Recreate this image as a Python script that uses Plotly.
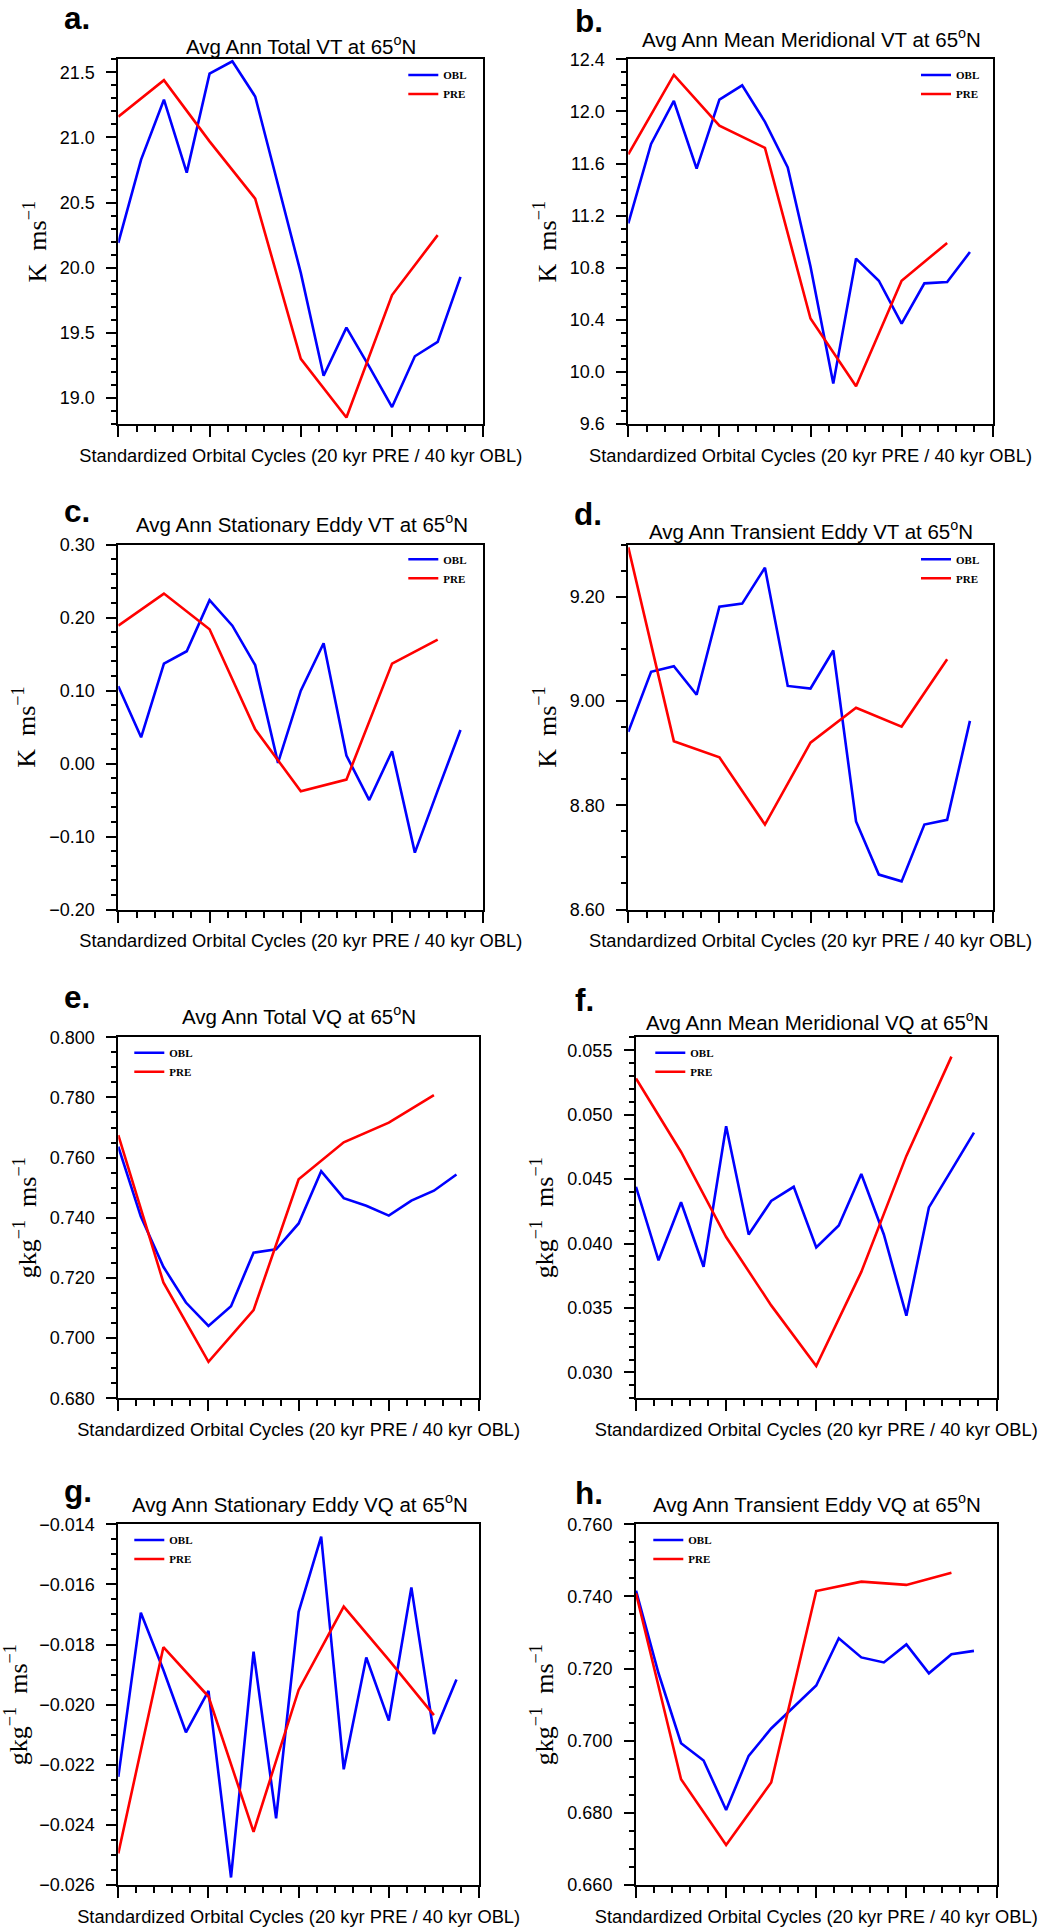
import plotly.graph_objects as go

# ---------------- data ----------------
x_obl = [0.0, 0.25, 0.5, 0.75, 1.0, 1.25, 1.5, 1.75, 2.0, 2.25, 2.5, 2.75, 3.0, 3.25, 3.5, 3.75]
x_pre = [0.0, 0.5, 1.0, 1.5, 2.0, 2.5, 3.0, 3.5]

a_obl = [20.19, 20.83, 21.29, 20.73, 21.49, 21.585, 21.315, 20.64, 19.96, 19.17, 19.54, 19.24, 18.93, 19.32, 19.43, 19.93]
a_pre = [21.16, 21.44, 20.97, 20.53, 19.30, 18.85, 19.79, 20.25]

b_obl = [11.14, 11.75, 12.08, 11.56, 12.09, 12.20, 11.92, 11.57, 10.81, 9.91, 10.87, 10.70, 10.37, 10.68, 10.69, 10.92]
b_pre = [11.67, 12.28, 11.89, 11.72, 10.41, 9.89, 10.70, 10.99]

c_obl = [0.106, 0.036, 0.137, 0.154, 0.224, 0.189, 0.135, 0.001, 0.100, 0.165, 0.011, -0.050, 0.017, -0.122, -0.037, 0.046]
c_pre = [0.189, 0.233, 0.184, 0.047, -0.038, -0.022, 0.137, 0.170]

d_obl = [8.941, 9.056, 9.067, 9.012, 9.181, 9.187, 9.256, 9.029, 9.024, 9.097, 8.769, 8.667, 8.654, 8.763, 8.772, 8.962]
d_pre = [9.295, 8.923, 8.892, 8.763, 8.920, 8.987, 8.951, 9.080]

e_obl = [0.7636, 0.7404, 0.7237, 0.7118, 0.7040, 0.7106, 0.7284, 0.7295, 0.7381, 0.7555, 0.7465, 0.7440, 0.7407, 0.7457, 0.7490, 0.7544]
e_pre = [0.7675, 0.7185, 0.6921, 0.7093, 0.7528, 0.7651, 0.7716, 0.7808]

f_obl = [0.0444, 0.0387, 0.0432, 0.0382, 0.0491, 0.0407, 0.0433, 0.0444, 0.0397, 0.0414, 0.0454, 0.0407, 0.0344, 0.0428, 0.0457, 0.0486]
f_pre = [0.0528, 0.0471, 0.0405, 0.0352, 0.0305, 0.0378, 0.0468, 0.0545]

g_obl = [-0.0224, -0.01694, -0.01885, -0.02092, -0.01954, -0.02575, -0.01824, -0.02378, -0.01691, -0.01441, -0.02215, -0.01843, -0.02053, -0.0161, -0.02098, -0.01916]
g_pre = [-0.02495, -0.01809, -0.01973, -0.02423, -0.01951, -0.01674, -0.01851, -0.02035]

h_obl = [0.7416, 0.7187, 0.6993, 0.6945, 0.6808, 0.6958, 0.7034, 0.7094, 0.7153, 0.7284, 0.7231, 0.7217, 0.7267, 0.7187, 0.7240, 0.7249]
h_pre = [0.7409, 0.6893, 0.6711, 0.6884, 0.7415, 0.7441, 0.7432, 0.7466]

panel_letters = ["a.", "b.", "c.", "d.", "e.", "f.", "g.", "h."]
panel_titles = [
    "Avg Ann Total VT at 65<sup>o</sup>N",
    "Avg Ann Mean Meridional VT at 65<sup>o</sup>N",
    "Avg Ann Stationary Eddy VT at 65<sup>o</sup>N",
    "Avg Ann Transient Eddy VT at 65<sup>o</sup>N",
    "Avg Ann Total VQ at 65<sup>o</sup>N",
    "Avg Ann Mean Meridional VQ at 65<sup>o</sup>N",
    "Avg Ann Stationary Eddy VQ at 65<sup>o</sup>N",
    "Avg Ann Transient Eddy VQ at 65<sup>o</sup>N",
]
unit_vt = "K  ms<sup>\u22121</sup>"
unit_vq = "gkg<sup>\u22121</sup>  ms<sup>\u22121</sup>"
x_title = "Standardized Orbital Cycles (20 kyr PRE / 40 kyr OBL)"
series_names = ["OBL", "PRE"]

obl_series = [a_obl, b_obl, c_obl, d_obl, e_obl, f_obl, g_obl, h_obl]
pre_series = [a_pre, b_pre, c_pre, d_pre, e_pre, f_pre, g_pre, h_pre]
y_ranges = [[18.8, 21.6], [9.6, 12.4], [-0.2, 0.3], [8.6, 9.3],
            [0.68, 0.80], [0.028, 0.056], [-0.026, -0.014], [0.66, 0.76]]
y_dtick = [0.5, 0.4, 0.1, 0.2, 0.02, 0.005, 0.002, 0.02]
y_tick0 = [19.0, 9.6, 0.0, 8.6, 0.68, 0.03, -0.026, 0.66]
y_minor = [0.1, 0.1, 0.02, 0.05, 0.005, 0.001, 0.0005, 0.005]
y_fmt = [".1f", ".1f", ".2f", ".2f", ".3f", ".3f", ".3f", ".3f"]

# ---------------- layout geometry (page pixels) ----------------
W, H = 1042, 1930

boxes = [  # x0, x1, y0(top), y1(bottom)
    (118.3, 483.3, 59.3, 424.0),
    (628.3, 992.7, 59.3, 424.0),
    (118.3, 483.3, 544.7, 909.5),
    (628.3, 992.7, 544.7, 909.5),
    (118.3, 479.0, 1037.3, 1398.2),
    (636.0, 996.5, 1037.3, 1398.2),
    (118.3, 479.0, 1524.3, 1885.0),
    (636.0, 996.5, 1524.3, 1885.0),
]
letter_pos = [(61.7, 29.3), (572.7, 31.7), (61.7, 521.7), (572.0, 525.0),
              (61.7, 1008.3), (572.7, 1010.7), (61.7, 1502.3), (572.7, 1504.0)]
title_pos = [(301, 53.3), (811, 46.7), (301.7, 531.7), (811, 538.3),
             (299, 1024), (817, 1030), (299.5, 1511.7), (817, 1511.7)]
legend_pos = [(443.3, 75), (956, 75), (443.3, 559.3), (956, 559.3),
              (169.3, 1052.7), (690.3, 1052.7), (169.3, 1540), (688.3, 1540)]

SANS = "Liberation Sans, Arial, Helvetica, sans-serif"
SERIF = "Liberation Serif, Times New Roman, serif"
LETTER_FS = 31.5
TITLE_FS = 20.5

def fx(p):
    return p / W

def fy(p):
    return 1 - p / H

fig = go.Figure()
layout = dict(
    template="none",
    width=W, height=H, autosize=False,
    margin=dict(l=0, r=0, t=0, b=0, pad=0, autoexpand=False),
    paper_bgcolor="white", plot_bgcolor="white",
    font=dict(family=SANS, color="black"),
    annotations=[],
)

for i in range(8):
    n = "" if i == 0 else str(i + 1)
    xa, ya = "xaxis" + n, "yaxis" + n
    xr, yr = "x" + n, "y" + n
    leg = "legend" + n
    x0, x1, y0, y1 = boxes[i]
    unit = unit_vt if i < 4 else unit_vq

    fig.add_trace(go.Scatter(x=x_obl, y=obl_series[i], mode="lines", name=series_names[0],
                             line=dict(color="#0000ff", width=2.6), xaxis=xr, yaxis=yr,
                             legend=leg, showlegend=True))
    fig.add_trace(go.Scatter(x=x_pre, y=pre_series[i], mode="lines", name=series_names[1],
                             line=dict(color="#ff0000", width=2.6), xaxis=xr, yaxis=yr,
                             legend=leg, showlegend=True))

    layout[xa] = dict(
        domain=[fx(x0), fx(x1)], anchor=yr, range=[0, 4], automargin=False,
        tick0=0, dtick=1, ticks="outside", ticklen=11, tickwidth=2, tickcolor="black",
        showticklabels=False, showgrid=False, zeroline=False,
        showline=True, linewidth=2, linecolor="black", mirror=True,
        minor=dict(tick0=0, dtick=0.2, ticks="outside", ticklen=6, tickwidth=1.5, tickcolor="black",
                   showgrid=False),
        title=dict(text=x_title, font=dict(family=SANS, size=18.3, color="black"), standoff=13),
    )
    layout[ya] = dict(
        domain=[fy(y1), fy(y0)], anchor=xr, range=y_ranges[i], automargin=False,
        tick0=y_tick0[i], dtick=y_dtick[i], tickformat=y_fmt[i],
        ticks="outside", ticklen=10, tickwidth=2, tickcolor="black",
        ticklabelstandoff=8,
        tickfont=dict(family=SANS, size=18, color="black"),
        showgrid=False, zeroline=False,
        showline=True, linewidth=2, linecolor="black", mirror=True,
        minor=dict(tick0=y_tick0[i], dtick=y_minor[i], ticks="outside", ticklen=5, tickwidth=1.5,
                   tickcolor="black", showgrid=False),
        title=dict(text=unit, font=dict(family=SERIF, size=26, color="black"), standoff=6),
    )
    lx, ly = legend_pos[i]
    layout[leg] = dict(
        x=fx(lx - 40), y=fy(ly - 14.5), xanchor="left", yanchor="top",
        xref="paper", yref="paper",
        bgcolor="rgba(0,0,0,0)", borderwidth=0,
        font=dict(family=SERIF, size=11, color="black", weight="bold"),
        itemwidth=30, tracegroupgap=0,
    )
    # panel letter
    px, pb = letter_pos[i]
    layout["annotations"].append(dict(
        text="<b>" + panel_letters[i] + "</b>", x=fx(px), y=fy(pb - 0.3465 * LETTER_FS),
        xref="paper", yref="paper", xanchor="left", yanchor="middle", showarrow=False,
        font=dict(family=SANS, size=LETTER_FS, color="black"),
    ))
    # panel title (text box includes the raised superscript, so its centre sits higher)
    tx, tb = title_pos[i]
    layout["annotations"].append(dict(
        text=panel_titles[i], x=fx(tx), y=fy(tb - 0.42 * TITLE_FS),
        xref="paper", yref="paper", xanchor="center", yanchor="middle", showarrow=False,
        font=dict(family=SANS, size=TITLE_FS, color="black"),
    ))

fig.update_layout(**layout)
# remove the browser's default 8px body margin so the figure fills the window exactly
fig.write_html("out.html", config={"displayModeBar": False},
               post_script="document.body.style.margin='0';")
